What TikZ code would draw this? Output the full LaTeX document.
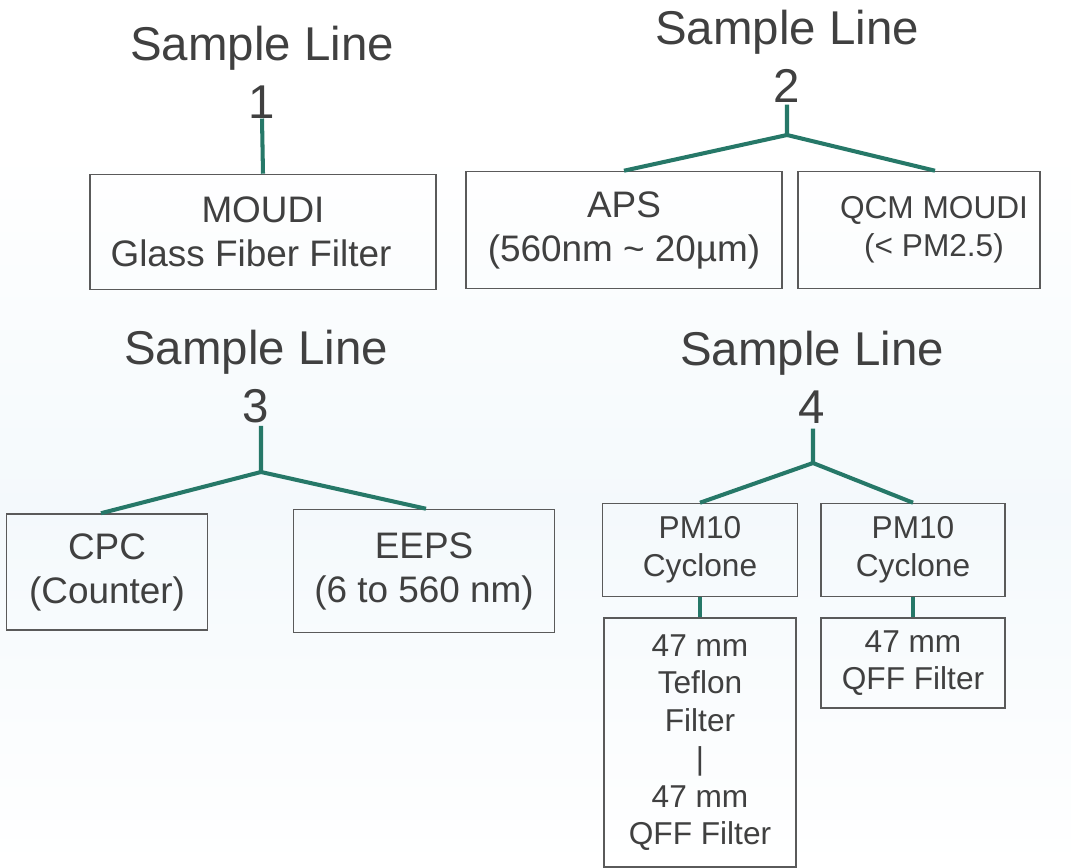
\documentclass[tikz,border=0pt]{standalone}
\usepackage{fontspec}
\setmainfont{Liberation Sans}
\usepackage{xcolor}
\usetikzlibrary{positioning}

\definecolor{linegreen}{RGB}{38,120,104}
\definecolor{boxgray}{RGB}{90,90,90}
\definecolor{textgray}{RGB}{64,64,64}
\definecolor{bgblue}{RGB}{244,249,252}

\begin{document}
\begin{tikzpicture}[x=0.02cm, y=-0.02cm,
		box/.style={draw=boxgray, line width=0.9pt, inner sep=0pt, align=center, text=textgray},
		title/.style={align=center, inner sep=0pt, text=textgray, font=\fontsize{27}{33}\selectfont},
		big/.style={font=\fontsize{21}{25}\selectfont},
		small/.style={font=\fontsize{18}{21.5}\selectfont},
		wire/.style={draw=linegreen, line width=2.3pt}]
			% background
			\fill[white] (0,0) rectangle (1071,868);
			\shade[top color=white, bottom color=white, middle color=bgblue] (0,150) rectangle (1071,868);
			\useasboundingbox (0,0) rectangle (1071,868);

			% sample line titles
			\node[title] (t1) at (262,72) {Sample Line\\1};
			\node[title] (t2) at (787,56) {Sample Line\\2};
			\node[title] (t3) at (256,377) {Sample Line\\3};
			\node[title] (t4) at (812,377) {Sample Line\\4};

			\coordinate (j2) at (787,135);
			\coordinate (j3) at (261,472);
			\coordinate (j4) at (813,463);

			% instruments
			\node[box, big, minimum width=6.92cm, minimum height=2.3cm] (moudi) at (263,232) {MOUDI\\Glass Fiber Filter\hspace*{0.48cm}};
			\node[box, big, minimum width=6.32cm, minimum height=2.34cm] (aps) at (624,230) {APS\\(560nm \textasciitilde{} 20µm)};
			\node[box, small, minimum width=4.84cm, minimum height=2.34cm] (qcm) at (919,230) {\hspace*{0.6cm}QCM MOUDI\\\hspace*{0.6cm}(< PM2.5)};
			\node[box, big, minimum width=4.02cm, minimum height=2.32cm] (cpc) at (107,572) {CPC\\(Counter)};
			\node[box, big, minimum width=5.22cm, minimum height=2.46cm] (eeps) at (424,571) {EEPS\\(6 to 560 nm)};
			\node[box, small, minimum width=3.9cm, minimum height=1.86cm] (pmA) at (700,550) {PM10\\Cyclone};
			\node[box, small, minimum width=3.68cm, minimum height=1.86cm] (pmB) at (913,550) {PM10\\Cyclone};
			\node[box, small, minimum width=3.84cm, minimum height=4.98cm] (filtA) [below=0.4cm of pmA] {47 mm\\Teflon\\Filter\\|\\47 mm\\QFF Filter};
			\node[box, small, minimum width=3.68cm, minimum height=1.8cm] (filtB) [below=0.4cm of pmB] {47 mm\\QFF Filter};

			% connectors
			\draw[wire] (t1.south) -- (moudi.north);
			\draw[wire] ([yshift=-0.04cm]t2.south) -- (j2) -- (aps.north);
			\draw[wire] (j2) -- ([xshift=0.32cm]qcm.north);
			\draw[wire] ([yshift=-0.04cm]t3.south -| j3) -- (j3) -- ([xshift=-0.12cm]cpc.north);
			\draw[wire] (j3) -- ([xshift=0.04cm]eeps.north);
			\draw[wire] ([yshift=-0.1cm]t4.south -| j4) -- (j4) -- (pmA.north);
			\draw[wire] (j4) -- (pmB.north);
			\draw[wire] (pmA) -- (filtA);
			\draw[wire] (pmB) -- (filtB);
		\end{tikzpicture}
\end{document}
